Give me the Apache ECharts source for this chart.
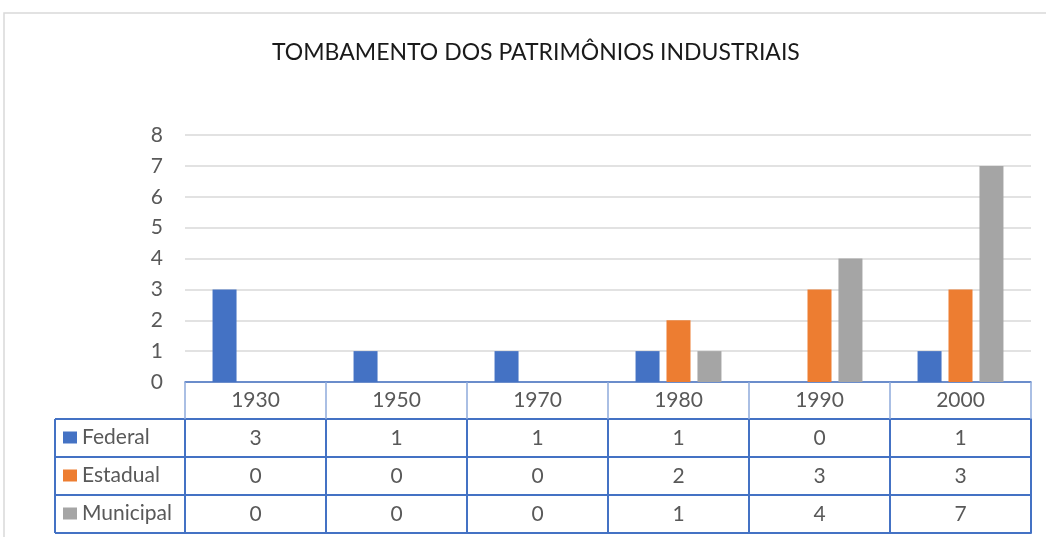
<!DOCTYPE html>
<html>
<head>
<meta charset="utf-8">
<script src="https://cdn.jsdelivr.net/npm/echarts@6/dist/echarts.min.js"></script>
<style>
  html, body { margin: 0; padding: 0; background: #fff; }
  #chart { width: 1046px; height: 537px; }
</style>
</head>
<body>
<div id="chart"></div>
<script>
// dados
const years = ['1930', '1950', '1970', '1980', '1990', '2000'];
const federal = [3, 1, 1, 1, 0, 1];
const estadual = [0, 0, 0, 2, 3, 3];
const municipal = [0, 0, 0, 1, 4, 7];
const seriesNames = ['Federal', 'Estadual', 'Municipal'];
const yTicks = [0, 1, 2, 3, 4, 5, 6, 7, 8];

const colors = ['#4472C4', '#ED7D31', '#A5A5A5'];
const rows = [federal, estadual, municipal];

// layout da tabela (estilo Excel)
const W = 1046, H = 537;
const gridLeft = 185, gridRight = 15, gridTop = 135, gridBottom = 155;
const headerH = 37, rowH = 38;
const tableLeft = 55;
const axisY = H - gridBottom;
const font = 'Lato, "Noto Sans", sans-serif';
const fontSize = 21;
const textColor = '#595959';
const lineBlue = '#4472C4';

const chart = echarts.init(document.getElementById('chart'));

// eixos x extras: uma linha da tabela para cada série
const rowAxes = rows.map((vals, i) => ({
  type: 'category',
  data: years,
  position: 'bottom',
  offset: headerH + i * rowH,
  axisLine: { show: true, lineStyle: { color: lineBlue, width: 2 } },
  axisTick: { show: true, length: rowH, lineStyle: { color: lineBlue, width: 2 } },
  axisLabel: {
    show: true,
    margin: rowH / 2,
    verticalAlign: 'middle',
    color: textColor,
    fontFamily: font,
    fontSize: fontSize,
    formatter: (v, idx) => String(vals[idx])
  }
}));

// linha inferior da tabela
rowAxes.push({
  type: 'category',
  data: years,
  position: 'bottom',
  offset: headerH + rows.length * rowH,
  axisLine: { show: true, lineStyle: { color: lineBlue, width: 2 } },
  axisTick: { show: false },
  axisLabel: { show: false }
});

// legendas na coluna esquerda da tabela
const legends = seriesNames.map((name, i) => ({
  data: [name],
  left: 63,
  top: axisY + headerH + i * rowH + rowH / 2 - 11,
  padding: 0,
  itemWidth: 14,
  itemHeight: 12,
  icon: 'rect',
  selectedMode: false,
  textStyle: { color: textColor, fontFamily: font, fontSize: fontSize, padding: [0, 0, 0, 0] }
}));

// bordas da coluna da legenda
const legendLines = [];
for (let i = 0; i <= rows.length; i++) {
  const y = axisY + headerH + i * rowH;
  legendLines.push({
    type: 'line',
    shape: { x1: tableLeft, y1: y, x2: gridLeft, y2: y },
    style: { stroke: lineBlue, lineWidth: 2 }
  });
}
legendLines.push({
  type: 'line',
  shape: { x1: tableLeft, y1: axisY + headerH, x2: tableLeft, y2: axisY + headerH + rows.length * rowH },
  style: { stroke: lineBlue, lineWidth: 2 }
});

chart.setOption({
  animation: false,
  title: {
    text: 'TOMBAMENTO DOS PATRIMÔNIOS INDUSTRIAIS',
    left: 267,
    top: 36,
    textStyle: { color: '#1a1a1a', fontFamily: font, fontSize: 23, fontWeight: 'normal' }
  },
  legend: legends,
  grid: { left: gridLeft, right: gridRight, top: gridTop, bottom: gridBottom },
  xAxis: [{
    type: 'category',
    data: years,
    position: 'bottom',
    axisLine: { show: true, lineStyle: { color: lineBlue, width: 1.5 } },
    axisTick: { show: true, length: headerH, lineStyle: { color: '#8FAADC', width: 1.5 } },
    axisLabel: {
      margin: headerH / 2,
      verticalAlign: 'middle',
      color: textColor,
      fontFamily: font,
      fontSize: fontSize
    }
  }].concat(rowAxes),
  yAxis: {
    type: 'value',
    min: yTicks[0],
    max: yTicks[yTicks.length - 1],
    interval: 1,
    axisLine: { show: false },
    axisTick: { show: false },
    axisLabel: { margin: 22, color: textColor, fontFamily: font, fontSize: fontSize },
    splitLine: { lineStyle: { color: '#D9D9D9', width: 1.5 } }
  },
  series: seriesNames.map((name, i) => ({
    name: name,
    type: 'bar',
    xAxisIndex: 0,
    data: rows[i],
    barWidth: 24,
    barGap: '29%',
    itemStyle: { color: colors[i] }
  })),
  graphic: [
    {
      type: 'rect',
      shape: { x: 4, y: 13, width: W + 20, height: H + 20 },
      style: { fill: 'none', stroke: '#D9D9D9', lineWidth: 1.5 },
      silent: true
    }
  ].concat(legendLines)
});
</script>
</body>
</html>
